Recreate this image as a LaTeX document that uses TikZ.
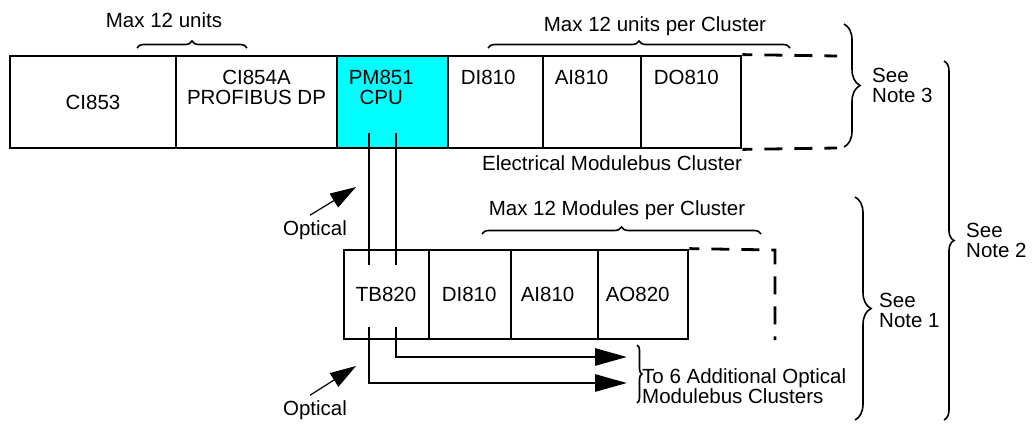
\documentclass[tikz,border=0pt]{standalone}
\usepackage{fontspec}
\setmainfont{Liberation Sans}
\usetikzlibrary{positioning,calc,arrows.meta,decorations.pathreplacing}
\definecolor{cpucyan}{RGB}{0,255,255}

\begin{document}
\begin{tikzpicture}[x=1pt,y=-1pt,
    font=\fontsize{20.5}{20}\selectfont,
    modbox/.style={draw, line width=2.8pt, inner sep=0pt, minimum height=92},
    lowbox/.style={modbox, minimum height=89},
    lbl/.style={inner sep=0pt},
    toplbl/.style={lbl, anchor=north west, align=center},
    lowlbl/.style={lbl, anchor=west},
    bus/.style={line width=2.8pt},
    busdash/.style={line width=2.8pt, dash pattern=on 18pt off 12pt, dash phase=8pt},
    busarrow/.style={bus, -{Triangle[length=32pt,width=17pt]}},
    optarrow/.style={line width=1.2pt, -{Triangle[length=26pt,width=16pt]}},
    brc/.style={decorate, decoration={brace, amplitude=7pt}, line width=1.6pt}]
    \useasboundingbox (0,0) rectangle (1035,423);

    % Electrical Modulebus cluster
    \node[modbox, minimum width=166] (ci853) at (93,102) {CI853};
    \node[modbox, minimum width=161] (ci854) at (256.5,102) {};
    \node[modbox, minimum width=111, fill=cpucyan] (pm851) at (392.5,102) {};
    \node[modbox, minimum width=95] (di1) at (495.5,102) {};
    \node[modbox, minimum width=98] (ai1) at (592,102) {};
    \node[modbox, minimum width=100] (do1) at (691,102) {};
    \node[lbl, anchor=north, align=center] (ci854t) at ([yshift=-15pt]ci854.north) {CI854A\\PROFIBUS DP};
    \node[toplbl] (pm851t) at ([shift={(13pt,-15pt)}]pm851.north west) {PM851\\CPU};
    \node[toplbl] (di1t) at ([shift={(14pt,-15pt)}]di1.north west) {DI810};
    \node[toplbl] (ai1t) at ([shift={(13pt,-15pt)}]ai1.north west) {AI810};
    \node[toplbl] (do1t) at ([shift={(14pt,-15pt)}]do1.north west) {DO810};

    % open end of the cluster
    \coordinate (e1) at (837,56);
    \coordinate (e2) at (837,148);
    \draw[busdash] (do1.north east) -- (e1);
    \draw[busdash] (do1.south east) -- (e2);
    \node[lbl] (elec) at (612,163) {Electrical Modulebus Cluster};

    % Optical Modulebus cluster
    \node[lowbox, minimum width=85] (tb820) at (386.5,294.5) {};
    \node[lowbox, minimum width=82] (di2) at (470,294.5) {};
    \node[lowbox, minimum width=87] (ai2) at (554.5,294.5) {};
    \node[lowbox, minimum width=90] (ao2) at (643,294.5) {};
    \node[lowlbl] (tb820t) at ([xshift=13pt]tb820.west) {TB820};
    \node[lowlbl] (di2t) at ([xshift=14pt]di2.west) {DI810};
    \node[lowlbl] (ai2t) at ([xshift=11pt]ai2.west) {AI810};
    \node[lowlbl] (ao2t) at ([xshift=9pt]ao2.west) {AO820};
    \coordinate (c1) at (775,250);
    \coordinate (c2) at (775,340);
    \draw[busdash] (ao2.north east) -- (c1) -- (c2);

    % optical links
    \coordinate (up1) at (369,133);
    \coordinate (up2) at (396,133);
    \coordinate (in1) at (369,265);
    \coordinate (in2) at (396,265);
    \coordinate (lo1) at (369,327);
    \coordinate (lo2) at (396,327);
    \coordinate (tip1) at (627,383);
    \coordinate (tip2) at (627,357);
    \draw[bus] (up1) -- (in1);
    \draw[bus] (up2) -- (in2);
    \draw[busarrow] (lo1) |- (tip1);
    \draw[busarrow] (lo2) |- (tip2);

    \node[lbl] (opt1) at (315,230) {Optical};
    \node[lbl] (opt2) at (315,410) {Optical};
    \coordinate (optip1) at (356,187);
    \coordinate (optip2) at (356,366);
    \draw[optarrow] ([shift={(-5pt,5pt)}]opt1.north) -- (optip1);
    \draw[optarrow] ([shift={(-5pt,5pt)}]opt2.north) -- (optip2);

    \coordinate (b6a) at (637,345);
    \coordinate (b6b) at (637,403);
    \draw[brc, decoration={amplitude=5pt}] (b6a) -- (b6b);
    \node[lbl, anchor=west, align=left] (more) at (642,386) {To 6 Additional Optical\\Modulebus Clusters};

    % limits
    \coordinate (m1a) at (137,48);
    \coordinate (m1b) at (247,48);
    \draw[brc] (m1a) -- (m1b);
    \node[lbl] (max1) at (164,20) {Max 12 units};
    \coordinate (m2a) at (488,48);
    \coordinate (m2b) at (790,48);
    \draw[brc] (m2a) -- (m2b);
    \node[lbl] (max2) at (655,26) {Max 12 units per Cluster};
    \coordinate (m3a) at (482,234);
    \coordinate (m3b) at (761,234);
    \draw[brc] (m3a) -- (m3b);
    \node[lbl] (max3) at (617,210) {Max 12 Modules per Cluster};

    % notes
    \coordinate (n3a) at (844,24);
    \coordinate (n3b) at (844,147);
    \draw[brc, decoration={amplitude=16pt}] (n3a) -- (n3b);
    \node[lbl, anchor=west, align=left] (note3) at (872,85) {See\\Note 3};
    \coordinate (n1a) at (855,197);
    \coordinate (n1b) at (855,420);
    \draw[brc, decoration={amplitude=16pt}] (n1a) -- (n1b);
    \node[lbl, anchor=west, align=left] (note1) at (879,310) {See\\Note 1};
    \coordinate (n2a) at (944,61);
    \coordinate (n2b) at (944,420);
    \draw[brc, decoration={amplitude=10pt}] (n2a) -- (n2b);
    \node[lbl, anchor=west, align=left] (note2) at (966,240) {See\\Note 2};
\end{tikzpicture}
\end{document}
